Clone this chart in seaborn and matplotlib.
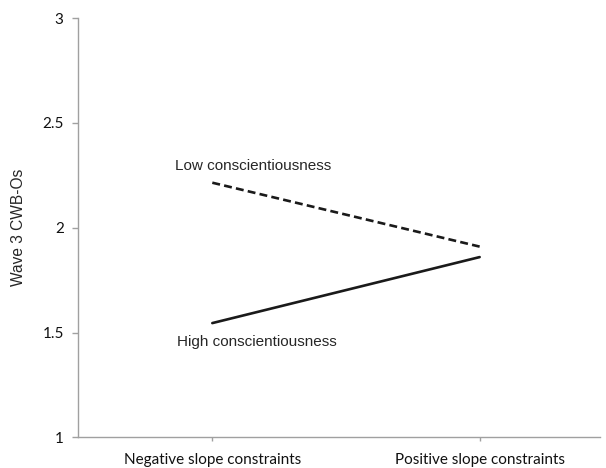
import matplotlib
matplotlib.use("Agg")
import matplotlib.pyplot as plt
import seaborn as sns
import pandas as pd

# Data
conditions = ["Negative slope constraints", "Positive slope constraints"]
low_consc = [2.215, 1.91]
high_consc = [1.545, 1.86]
group_names = ["Low conscientiousness", "High conscientiousness"]
y_ticks = [1, 1.5, 2, 2.5, 3]
y_tick_labels = ["1", "1.5", "2", "2.5", "3"]

df = pd.DataFrame({
    "condition": conditions * 2,
    "cwb": low_consc + high_consc,
    "group": [group_names[0]] * 2 + [group_names[1]] * 2,
})

sns.set_style("white")
plt.rcParams["font.family"] = ["Liberation Sans", "DejaVu Sans"]

fig = plt.figure(figsize=(6.06, 4.68), dpi=100)
ax = fig.add_axes([0.128, 0.0656, 0.862, 0.8955])

sns.lineplot(
    data=df, x="condition", y="cwb", style="group",
    dashes={group_names[0]: (3, 1.6), group_names[1]: ""},
    color="#1a1a1a", linewidth=1.9, legend=False, ax=ax,
)

ax.set_xlim(-0.504, 1.45)
ax.set_ylim(1, 3)
ax.set_yticks(y_ticks)
ax.set_yticklabels(y_tick_labels)
ax.set_xlabel("")
ax.set_ylabel("Wave 3 CWB-Os", fontsize=11.2, labelpad=12)

for side in ["top", "right"]:
    ax.spines[side].set_visible(False)
for side in ["left", "bottom"]:
    ax.spines[side].set_color("#a0a0a0")
    ax.spines[side].set_linewidth(1.0)

ax.tick_params(axis="y", length=4, width=1, color="#a0a0a0", pad=6,
               labelsize=11, direction="out", left=True)
ax.tick_params(axis="x", length=3, width=1, color="#a0a0a0", pad=8,
               labelsize=11, direction="out", bottom=True)
for lab in ax.get_xticklabels() + ax.get_yticklabels():
    lab.set_fontfamily(["Lato", "DejaVu Sans"])
    lab.set_color("#111111")

ax.text(-0.139, 2.295, group_names[0], fontsize=11, va="center", ha="left")
ax.text(-0.131, 1.456, group_names[1], fontsize=11, va="center", ha="left")

fig.savefig("out.png", dpi=100)
